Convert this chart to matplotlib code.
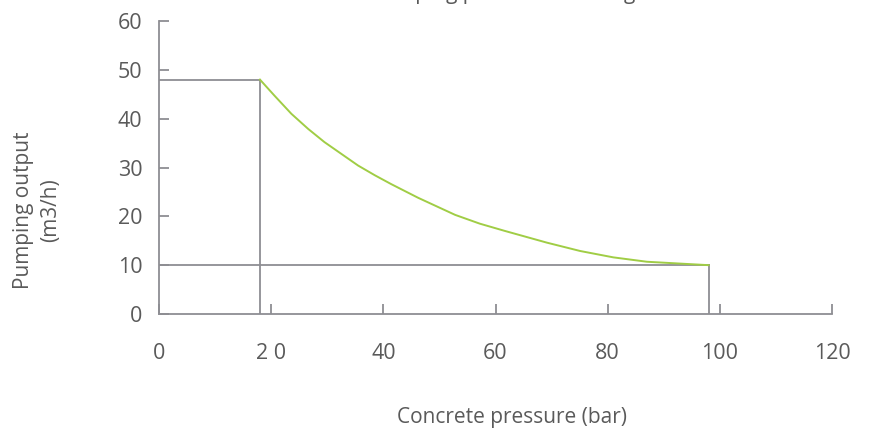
import matplotlib
matplotlib.use('Agg')
import matplotlib.pyplot as plt

plt.rcParams['font.family'] = ['Open Sans', 'DejaVu Sans']

# Curve (pressure in bar, output in m3/h)
pressure = [18, 20.6, 23.6, 26.6, 29.5, 32.5, 35.5, 38.5, 41.4, 46.2,
            52.8, 57.2, 61.7, 69.2, 75.1, 81.0, 87.0, 98]
output = [48, 44.7, 41.0, 37.9, 35.2, 32.8, 30.4, 28.4, 26.6, 23.8,
          20.3, 18.5, 17.0, 14.6, 12.9, 11.6, 10.7, 10]

# Limits of the working area
p_corner = 18
p_max = 98
q_max = 48
q_min = 10

x_ticks = [0, 20, 40, 60, 80, 100, 120]
x_tick_labels = ['0', '2 0', '40', '60', '80', '100', '120']
y_ticks = [0, 10, 20, 30, 40, 50, 60]

title = 'Pumping performance diagram'
x_label = 'Concrete pressure (bar)'
y_label = 'Pumping output\n(m3/h)'

grey = '#8e8e93'
text_grey = '#5a5a5a'
green = '#a0cd45'

fig = plt.figure(figsize=(8.73, 4.34), dpi=100)
W, H = 873, 434
ax = fig.add_axes([159 / W, (H - 314) / H, (832 - 159) / W, (314 - 21) / H])

# box lines
ax.plot([0, p_corner], [q_max, q_max], color=grey, lw=1.3)
ax.plot([p_corner, p_corner], [0, q_max], color=grey, lw=1.3)
ax.plot([0, p_max], [q_min, q_min], color=grey, lw=1.3)
ax.plot([p_max, p_max], [0, q_min], color=grey, lw=1.3)

# curve
ax.plot(pressure, output, color=green, lw=1.4)

ax.set_xlim(0, 120)
ax.set_ylim(0, 60)
ax.set_xticks(x_ticks)
ax.set_xticklabels(x_tick_labels)
ax.set_yticks(y_ticks)

for s in ['top', 'right']:
    ax.spines[s].set_visible(False)
for s in ['left', 'bottom']:
    ax.spines[s].set_color(grey)
    ax.spines[s].set_linewidth(1.3)

ax.tick_params(axis='both', direction='in', length=7, width=1.3, color=grey,
               labelcolor=text_grey, labelsize=15.5)
ax.tick_params(axis='y', pad=12)
ax.tick_params(axis='x', pad=21)

fig.text(512 / W, 1 - 417 / H, x_label, ha='center', va='center',
         color=text_grey, fontsize=15)
fig.text(37 / W, 1 - 210 / H, y_label, ha='center', va='center',
         rotation=90, color=text_grey, fontsize=15, linespacing=1.35)

# title sits above the figure edge, only descenders show
fig.text(523 / W, 1.002, title, ha='center', va='baseline',
         color=text_grey, fontsize=15)

fig.savefig('out.png', dpi=100)
